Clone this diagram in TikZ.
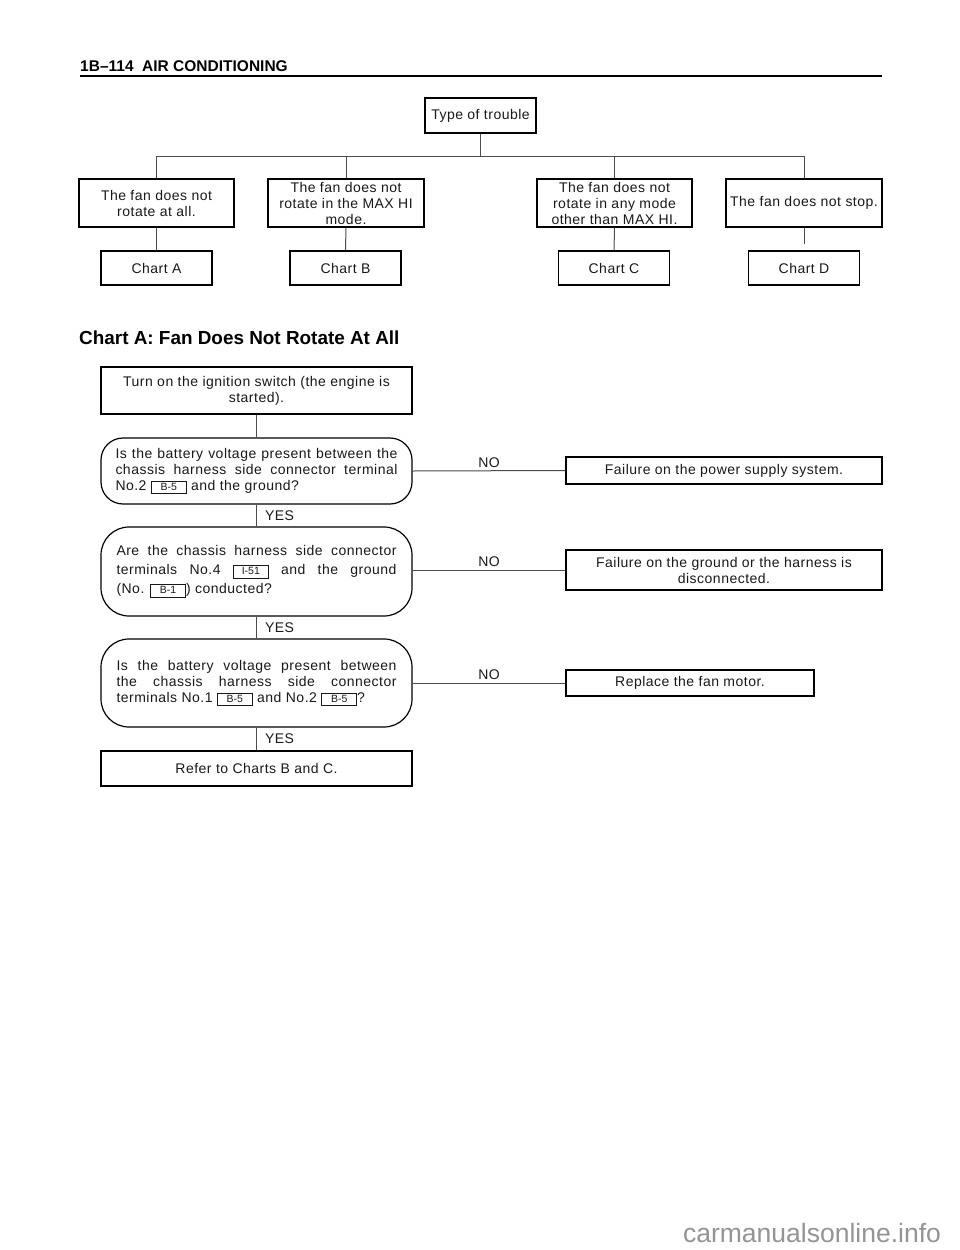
\documentclass[tikz,border=0pt]{standalone}
\usepackage{fontspec}
\setmainfont{Liberation Sans}
\newfontfamily\bodyfont[LetterSpace=3.5]{Liberation Sans}
\newfontfamily\plainfont{Liberation Sans}
\newcommand{\conn}[1]{{\setlength{\fboxsep}{0.6pt}\setlength{\fboxrule}{0.8pt}\fbox{\makebox[33pt]{\rule[-2.5pt]{0pt}{10.5pt}\plainfont\fontsize{10.5}{10.5}\selectfont #1}}}}
\begin{document}
\begin{tikzpicture}[x=1pt,y=-1pt,
  box/.style={draw=black, line width=1.2pt, inner sep=0pt, align=center,
    font=\bodyfont\fontsize{14}{16}\selectfont, text=black!90},
  rbox/.style={box, rounded corners=#1},
  rbox/.default=24pt,
  link/.style={draw=black!70, line width=1pt},
  lbl/.style={font=\bodyfont\fontsize{14}{16}\selectfont, inner sep=0pt, text=black!90}]
\useasboundingbox (0,0) rectangle (960,1250);
\fill[white] (0,0) rectangle (960,1250);

% header
\node[anchor=base west, inner sep=0pt, font=\plainfont\bfseries\fontsize{15.5}{17}\selectfont] (hdr) at (80,71) {1B–114\ \ AIR CONDITIONING};
\draw[line width=2pt] (80,75.5) -- (882,75.5);

% top tree
\node[box, minimum width=111pt, minimum height=35pt] (trouble) at (480.5,115.5) {Type of trouble};
\coordinate (bus) at (480.5,156);
\node[box, minimum width=155pt, minimum height=48pt] (fA) at (156.5,203) {The fan does not\\rotate at all.};
\node[box, minimum width=156pt, minimum height=48pt] (fB) at (346,203) {The fan does not\\rotate in the MAX HI\\mode.};
\node[box, minimum width=155pt, minimum height=48pt] (fC) at (614.5,203) {The fan does not\\rotate in any mode\\other than MAX HI.};
\node[box, minimum width=156pt, minimum height=48pt] (fD) at (804,203) {The fan does not stop.};
\node[box, minimum width=111pt, minimum height=34pt] (chA) at (156.5,268) {Chart A};
\node[box, minimum width=111pt, minimum height=34pt] (chB) at (345.5,268) {Chart B};
\node[box, minimum width=111pt, minimum height=34pt] (chC) at (614,268) {Chart C};
\node[box, minimum width=111pt, minimum height=34pt] (chD) at (804,268) {Chart D};
\coordinate (dgap) at (804,244);

\draw[link] (trouble.south) -- (bus);
\draw[link] (fA.north) |- (bus);
\draw[link] (fB.north) |- (bus);
\draw[link] (fC.north) |- (bus);
\draw[link] (fD.north) |- (bus);
\draw[link] (fA.south) -- (chA.north);
\draw[link] (fB.south) -- (chB.north);
\draw[link] (fC.south) -- (chC.north);
\draw[link] (fD.south) -- (dgap);

% chart A title
\node[anchor=base west, inner sep=0pt, font=\plainfont\bfseries\fontsize{18.9}{21}\selectfont] (title) at (79,344) {Chart A: Fan Does Not Rotate At All};

% chart A flow
\node[box, minimum width=311pt, minimum height=47pt] (s1) at (256.5,390.5) {Turn on the ignition switch (the engine is\\started).};
\node[rbox=22pt, minimum width=311pt, minimum height=66pt, text width=282pt, align=justify] (q1) at (256.5,471)
  {Is the battery voltage present between the\linebreak chassis harness side connector terminal\linebreak No.2 \conn{B-5} and the ground?};
\node[rbox=28pt, minimum width=311pt, minimum height=89pt, text width=280pt, align=justify, font=\bodyfont\fontsize{14}{19}\selectfont] (q2) at (256.5,571.5)
  {Are the chassis harness side connector\linebreak terminals No.4 \conn{I-51} and the ground\linebreak (No. \conn{B-1}) conducted?};
\node[rbox=28pt, minimum width=311pt, minimum height=88pt, text width=280pt, align=justify] (q3) at (256.5,683)
  {Is the battery voltage present between\linebreak the chassis harness side connector\linebreak terminals No.1 \conn{B-5} and No.2 \conn{B-5}?};
\node[box, minimum width=311pt, minimum height=35pt] (s2) at (256.5,768.5) {Refer to Charts B and C.};

\node[box, minimum width=316pt, minimum height=27pt] (r1) at (724,470.5) {Failure on the power supply system.};
\node[box, minimum width=316pt, minimum height=40pt] (r2) at (724,570) {Failure on the ground or the harness is\\disconnected.};
\node[box, minimum width=248pt, minimum height=26pt] (r3) at (690,683) {Replace the fan motor.};

\draw[link] (s1.south) -- (q1.north);
\draw[link] (q1.south) -- node[lbl, right=8pt] (y1) {YES} (q2.north);
\draw[link] (q2.south) -- node[lbl, right=8pt] (y2) {YES} (q3.north);
\draw[link] (q3.south) -- node[lbl, right=8pt] (y3) {YES} (s2.north);
\draw[link] (q1.east) -- node[lbl, above=3pt] (n1) {NO} (r1.west);
\draw[link] (q2.east |- r2.west) -- node[lbl, above=3pt] (n2) {NO} (r2.west);
\draw[link] (q3.east) -- node[lbl, above=3pt] (n3) {NO} (r3.west);

% watermark
\node[inner sep=0pt, text=black!42, font=\plainfont\fontsize{26.5}{28}\selectfont] (wm) at (812,1233) {carmanualsonline.info};
\end{tikzpicture}
\end{document}
